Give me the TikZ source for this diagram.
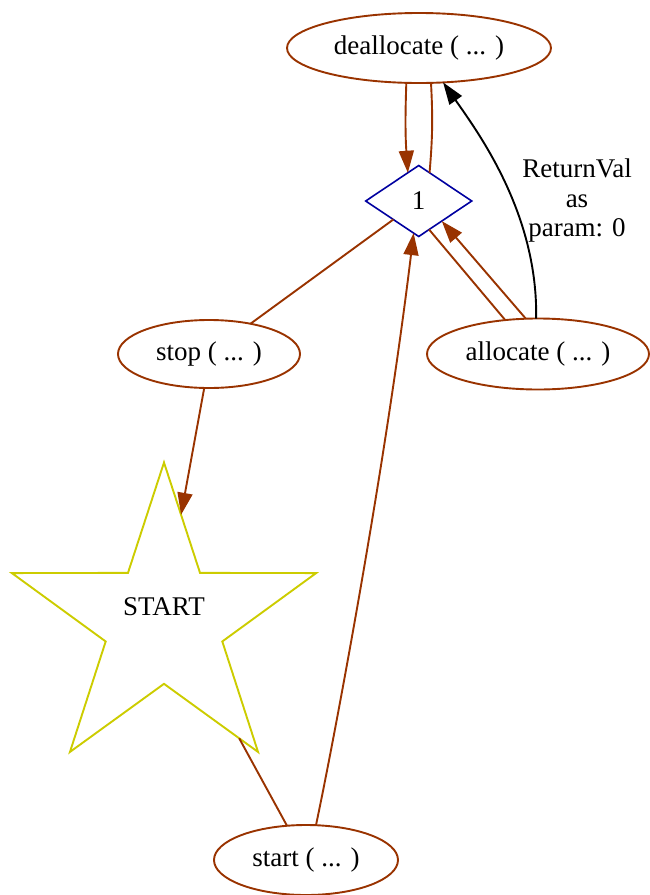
\documentclass[tikz,border=0pt]{standalone}
\usepackage{fontspec}
\setmainfont{Liberation Serif}
\usetikzlibrary{shapes.geometric,arrows.meta}
\definecolor{edgebrown}{RGB}{153,51,0}
\definecolor{diablue}{RGB}{0,0,160}
\definecolor{staryellow}{RGB}{204,204,0}

\begin{document}
\begin{tikzpicture}[x=1pt,y=-1pt,
  every node/.style={font=\fontsize{27}{29.5}\selectfont},
  func/.style={ellipse,draw=edgebrown,line width=1.9pt,inner sep=0pt,outer sep=0pt},
  cond/.style={diamond,draw=diablue,line width=1.6pt,inner sep=0pt,outer sep=0pt,
    minimum width=106pt,minimum height=71pt},
  startstar/.style={star,star points=5,star point ratio=2.61,draw=staryellow,
    line width=1.9pt,inner sep=0pt,outer sep=0pt,minimum size=320pt},
  link/.style={draw=edgebrown,line width=1.9pt},
  ret/.style={draw=black,line width=1.9pt},
  tip/.style={-{Triangle[length=22pt,width=15pt]}}]
\useasboundingbox (0,0) rectangle (649,895);
% nodes
\node[func,minimum width=264pt,minimum height=70pt] (dealloc) at (419,48) {deallocate ( ... )};
\node[cond] (one) at (418.7,201) {1};
\node[func,minimum width=182pt,minimum height=68pt] (stop) at (209,354) {stop ( ... )};
\node[func,minimum width=222pt,minimum height=71pt] (alloc) at (538,354) {allocate ( ... )};
\node[startstar,label={[yshift=15.5pt]center:START}] (START) at (164,622.5) {};
\node[func,minimum width=184pt,minimum height=70pt] (start) at (306,860) {start ( ... )};
% edges
\draw[link,tip] (dealloc.250) to[bend right=3] (one.111);
\draw[link] (one.69) to[bend right=4] (dealloc.289);
\draw[link] (one) -- (stop);
\draw[link,tip] (stop.262) -- (START.81.6);
\draw[link] (START.303) -- (start.119);
\draw[link,tip] (start.74.5) .. controls (333,745) and (385,470) .. (one.261);
\draw[link] (one.290) -- (alloc.134);
\draw[link,tip] (alloc.109) -- (one.319);
\draw[ret,tip] (alloc.93) .. controls (538,215) and (480,135) .. (dealloc.305);
\node[align=center] (retlbl) at (577,201) {ReturnVal\\as\\param: 0};
\end{tikzpicture}
\end{document}
